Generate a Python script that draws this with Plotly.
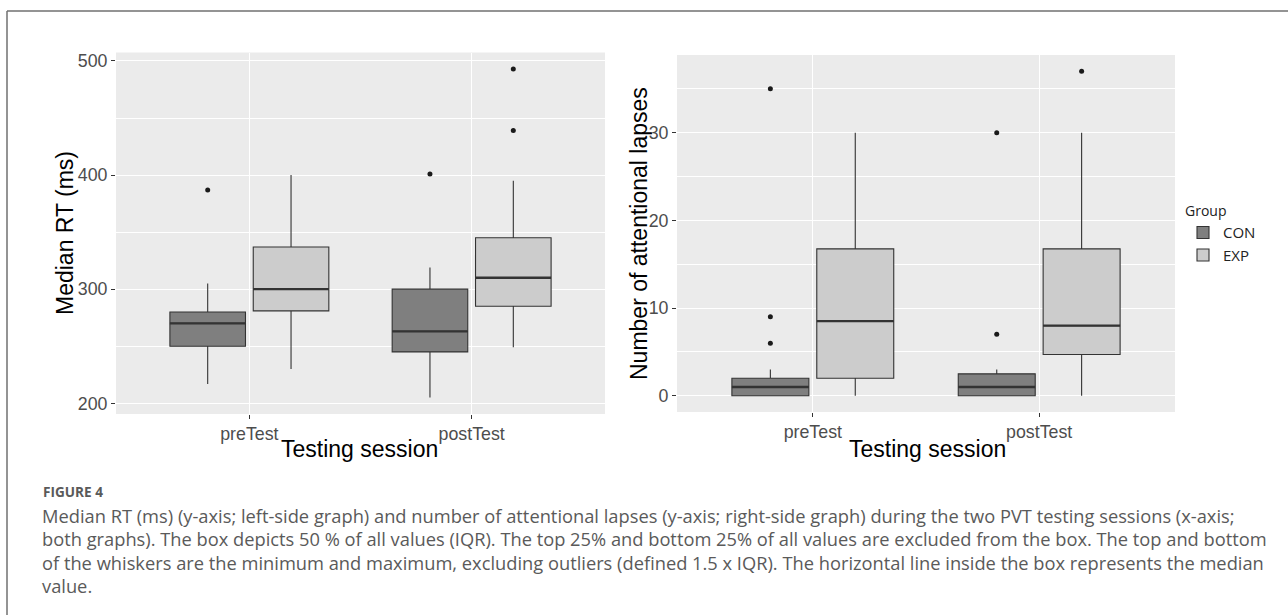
import plotly.graph_objects as go

# ---------------- data ----------------
sessions = ["preTest", "postTest"]
groups = ["CON", "EXP"]

# Median RT (ms) - left panel
rt_con_lower = [217, 205]
rt_con_q1 = [250, 245]
rt_con_median = [270, 263]
rt_con_q3 = [280, 300]
rt_con_upper = [305, 319]
rt_con_outliers = [[387], [401]]

rt_exp_lower = [230, 249]
rt_exp_q1 = [281, 285]
rt_exp_median = [300, 310]
rt_exp_q3 = [337, 345]
rt_exp_upper = [400, 395]
rt_exp_outliers = [[], [493, 439]]

# Number of attentional lapses - right panel
lap_con_lower = [0, 0]
lap_con_q1 = [0, 0]
lap_con_median = [1, 1]
lap_con_q3 = [2, 2.5]
lap_con_upper = [3, 3]
lap_con_outliers = [[35, 9, 6], [30, 7]]

lap_exp_lower = [0, 0]
lap_exp_q1 = [2, 4.7]
lap_exp_median = [8.5, 8]
lap_exp_q3 = [16.75, 16.75]
lap_exp_upper = [30, 30]
lap_exp_outliers = [[], [37]]

rt_ticks = [200, 300, 400, 500]
rt_minor = [250, 350, 450]
lap_ticks = [0, 10, 20, 30]
lap_minor = [5, 15, 25, 35]

left_ytitle = "Median RT (ms)"
right_ytitle = "Number of attentional lapses"
xtitle = "Testing session"
legend_title = "Group"

caption_label = "FIGURE 4"
caption_lines = [
    "Median RT (ms) (y-axis; left-side graph) and number of attentional lapses (y-axis; right-side graph) during the two PVT testing sessions (x-axis;",
    "both graphs). The box depicts 50 % of all values (IQR). The top 25% and bottom 25% of all values are excluded from the box. The top and bottom",
    "of the whiskers are the minimum and maximum, excluding outliers (defined 1.5 x IQR). The horizontal line inside the box represents the median",
    "value.",
]

# ---------------- style ----------------
W, H = 1288, 615
FILLS = {"CON": "#7f7f7f", "EXP": "#cccccc"}
LINE = "#333333"
DODGE = 0.1875
BOX_W = 0.34
AX_FONT = "Liberation Sans, Arial, sans-serif"
CAP_FONT = "Open Sans, sans-serif"


def px_x(p):
    return p / W


def px_y(p):
    return 1 - p / H


panels = [
    dict(xa="x", ya="y", stats={
        "CON": (rt_con_lower, rt_con_q1, rt_con_median, rt_con_q3, rt_con_upper, rt_con_outliers),
        "EXP": (rt_exp_lower, rt_exp_q1, rt_exp_median, rt_exp_q3, rt_exp_upper, rt_exp_outliers),
    }, legend=True),
    dict(xa="x2", ya="y2", stats={
        "CON": (lap_con_lower, lap_con_q1, lap_con_median, lap_con_q3, lap_con_upper, lap_con_outliers),
        "EXP": (lap_exp_lower, lap_exp_q1, lap_exp_median, lap_exp_q3, lap_exp_upper, lap_exp_outliers),
    }, legend=False),
]

fig = go.Figure()
for panel in panels:
    for gi, g in enumerate(groups):
        lo, q1, med, q3, up, outs = panel["stats"][g]
        offset = -DODGE if gi == 0 else DODGE
        pos = [i + 1 + offset for i in range(len(sessions))]
        fig.add_trace(go.Box(
            x=pos, q1=q1, median=med, q3=q3, lowerfence=lo, upperfence=up,
            width=BOX_W, whiskerwidth=0, fillcolor=FILLS[g],
            line=dict(color=LINE, width=1.1), name=g, legendgroup=g,
            showlegend=panel["legend"], xaxis=panel["xa"], yaxis=panel["ya"],
            hoverinfo="skip",
        ))
        # thicker median line (ggplot fatten)
        mx, my = [], []
        for p, m in zip(pos, med):
            mx += [p - BOX_W / 2, p + BOX_W / 2, None]
            my += [m, m, None]
        fig.add_trace(go.Scatter(x=mx, y=my, mode="lines",
                                 line=dict(color=LINE, width=2.3),
                                 showlegend=False, hoverinfo="skip",
                                 xaxis=panel["xa"], yaxis=panel["ya"]))
        ox, oy = [], []
        for p, o in zip(pos, outs):
            ox += [p] * len(o)
            oy += list(o)
        fig.add_trace(go.Scatter(x=ox, y=oy, mode="markers",
                                 marker=dict(color="#1a1a1a", size=5),
                                 showlegend=False, hoverinfo="skip",
                                 xaxis=panel["xa"], yaxis=panel["ya"]))

common_x = dict(range=[0.4, 2.6], tickvals=[1, 2], ticktext=sessions,
                showgrid=True, gridcolor="white", gridwidth=1.2, zeroline=False,
                ticks="outside", ticklen=4, tickcolor=LINE, tickwidth=1,
                tickfont=dict(family=AX_FONT, size=17.8, color="#4d4d4d"),
                showline=False)
common_y = dict(showgrid=True, gridcolor="white", gridwidth=1.2, zeroline=False,
                ticks="outside", ticklen=4, tickcolor=LINE, tickwidth=1,
                tickfont=dict(family=AX_FONT, size=17.8, color="#4d4d4d"),
                showline=False)

rt_lo = 205 - 0.05 * (493 - 205)
rt_hi = 493 + 0.05 * (493 - 205)
lap_lo = 0 - 0.05 * 37
lap_hi = 37 + 0.05 * 37

fig.update_layout(
    width=W, height=H,
    margin=dict(l=0, r=0, t=0, b=0),
    paper_bgcolor="white", plot_bgcolor="#ebebeb",
    boxmode="overlay",
    xaxis=dict(domain=[px_x(116), px_x(605)], anchor="y", **common_x),
    yaxis=dict(domain=[px_y(414), px_y(52.5)], anchor="x", range=[rt_lo, rt_hi],
               tickvals=rt_ticks,
               minor=dict(tickvals=rt_minor, showgrid=True, gridcolor="white",
                          gridwidth=0.6, ticks=""),
               **common_y),
    xaxis2=dict(domain=[px_x(677), px_x(1175)], anchor="y2", **common_x),
    yaxis2=dict(domain=[px_y(412), px_y(55)], anchor="x2", range=[lap_lo, lap_hi],
                tickvals=lap_ticks,
                minor=dict(tickvals=lap_minor, showgrid=True, gridcolor="white",
                           gridwidth=0.6, ticks=""),
                **common_y),
    legend=dict(title=dict(text=legend_title, font=dict(family=CAP_FONT, size=14, color="#222")),
                x=px_x(1183), y=px_y(198), xanchor="left", yanchor="top",
                font=dict(family=CAP_FONT, size=15, color="#222"),
                bgcolor="rgba(0,0,0,0)", tracegroupgap=0),
    showlegend=True,
)

annotations = [
    dict(text=left_ytitle, x=px_x(65), y=px_y(233), textangle=-90),
    dict(text=right_ytitle, x=px_x(639), y=px_y(234), textangle=-90),
    dict(text=xtitle, x=px_x(360), y=px_y(449)),
    dict(text=xtitle, x=px_x(927), y=px_y(449)),
]
for a in annotations:
    fig.add_annotation(xref="paper", yref="paper", showarrow=False,
                       xanchor="center", yanchor="middle",
                       font=dict(family=AX_FONT, size=23, color="black"), **a)

fig.add_annotation(xref="paper", yref="paper", showarrow=False, xanchor="left",
                   yanchor="middle", x=px_x(41), y=px_y(491.5), text="<b>" + caption_label + "</b>",
                   font=dict(family=CAP_FONT, size=13.6, color="#5a5a5a"))
for i, line in enumerate(caption_lines):
    fig.add_annotation(xref="paper", yref="paper", showarrow=False, xanchor="left",
                       yanchor="middle", x=px_x(40), y=px_y(515 + 23.5 * i), text=line,
                       font=dict(family=CAP_FONT, size=18.3, color="#5a5a5a"))

# outer frame (left and top edges)
fig.add_shape(type="line", xref="paper", yref="paper", x0=px_x(7), x1=px_x(7),
              y0=0, y1=px_y(11), line=dict(color="#707070", width=1.5))
fig.add_shape(type="line", xref="paper", yref="paper", x0=px_x(7), x1=1,
              y0=px_y(11), y1=px_y(11), line=dict(color="#707070", width=1.5))

fig.write_html("out.html", config={"displayModeBar": False},
               post_script="document.body.style.margin='0px';")
